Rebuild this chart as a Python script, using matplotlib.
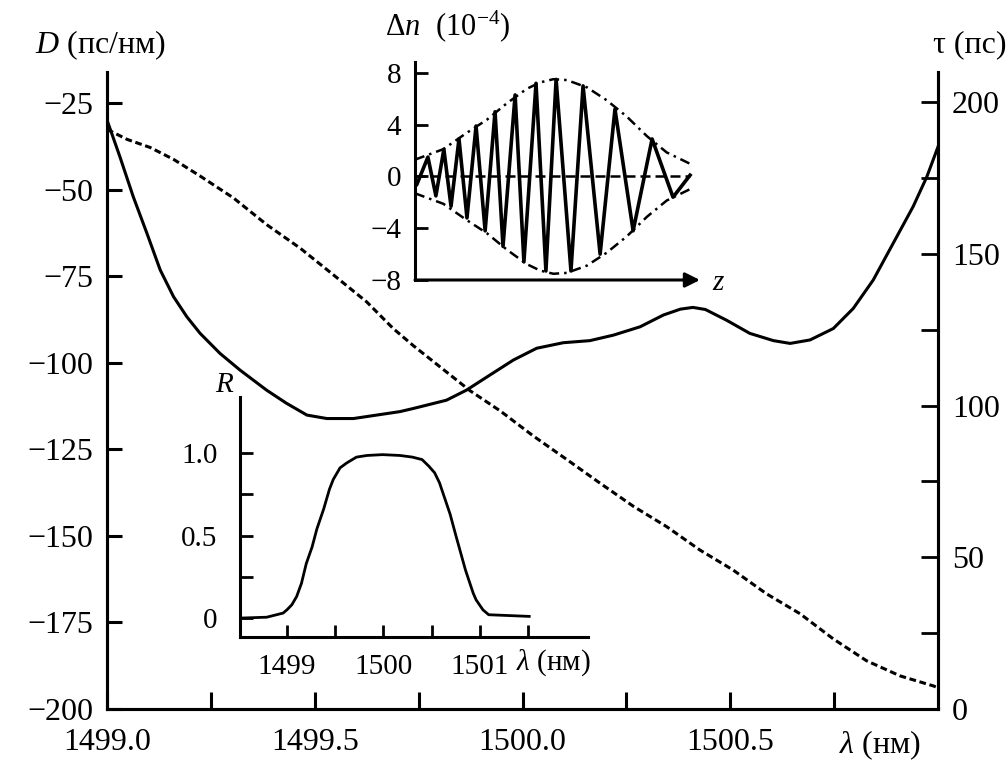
import numpy as np
import matplotlib
matplotlib.use("Agg")
import matplotlib.pyplot as plt

plt.rcParams['font.family'] = ['Liberation Serif', 'DejaVu Serif']
plt.rcParams['mathtext.fontset'] = 'custom'
plt.rcParams['mathtext.rm'] = 'Liberation Serif'
plt.rcParams['mathtext.it'] = 'Liberation Serif:italic'
plt.rcParams['font.size'] = 23

# main plot: dispersion D (solid, left axis)
lam_d = [1499.000, 1499.031, 1499.063, 1499.096, 1499.128, 1499.160, 1499.192,
         1499.224, 1499.272, 1499.320, 1499.384, 1499.432, 1499.481, 1499.529,
         1499.593, 1499.649, 1499.705, 1499.737, 1499.817, 1499.865, 1499.922,
         1499.978, 1500.034, 1500.098, 1500.162, 1500.219, 1500.283, 1500.339,
         1500.380, 1500.410, 1500.440, 1500.491, 1500.547, 1500.604, 1500.644,
         1500.692, 1500.748, 1500.796, 1500.844, 1500.892, 1500.940, 1500.973,
         1501.000]
d_vals = [-29.9, -40.5, -52.0, -62.6, -73.2, -80.9, -86.7,
          -91.5, -97.3, -102.1, -107.9, -111.7, -115.1, -116.1,
          -116.1, -115.1, -114.1, -113.2, -110.8, -107.9, -103.5,
          -99.2, -95.8, -94.2, -93.6, -92.0, -89.6, -86.2,
          -84.5, -84.0, -84.6, -87.7, -91.5, -93.6, -94.4,
          -93.4, -90.1, -84.3, -76.1, -65.5, -54.9, -46.3,
          -37.6]

# main plot: group delay tau (dashed, right axis)
lam_tau = [1499.000, 1499.048, 1499.104, 1499.160, 1499.224, 1499.304, 1499.385,
           1499.465, 1499.545, 1499.625, 1499.689, 1499.737, 1499.874, 1499.946,
           1500.026, 1500.106, 1500.186, 1500.267, 1500.347, 1500.427, 1500.507,
           1500.587, 1500.668, 1500.748, 1500.828, 1500.909, 1500.989, 1501.000]
tau_vals = [191.1, 187.8, 185.1, 181.2, 175.7, 168.5, 159.6,
            151.9, 143.1, 134.2, 125.4, 119.8, 104.9, 98.3,
            90.0, 82.3, 74.5, 66.8, 60.1, 52.4, 45.8,
            38.0, 31.4, 23.1, 15.9, 10.9, 7.6, 7.0]

d_ticks = [-200, -175, -150, -125, -100, -75, -50, -25]
tau_ticks = [0, 50, 100, 150, 200]
tau_minor = [25, 75, 125, 175]
x_ticks = [1499.0, 1499.25, 1499.5, 1499.75, 1500.0, 1500.25, 1500.5, 1500.75]
x_labels = ['1499.0', '', '1499.5', '', '1500.0', '', '1500.5', '']

# inset: reflectivity R
lam_r = [1498.53, 1498.79, 1498.96, 1499.00, 1499.05, 1499.10, 1499.15, 1499.20,
         1499.26, 1499.31, 1499.38, 1499.44, 1499.48, 1499.55, 1499.62, 1499.72,
         1499.83, 1499.99, 1500.17, 1500.30, 1500.40, 1500.47, 1500.53, 1500.58,
         1500.69, 1500.75, 1500.85, 1500.93, 1500.96, 1501.03, 1501.09, 1501.51]
r_vals = [0.0, 0.005, 0.03, 0.05, 0.08, 0.13, 0.21, 0.33,
          0.43, 0.54, 0.66, 0.78, 0.84, 0.91, 0.94, 0.975,
          0.985, 0.99, 0.985, 0.975, 0.96, 0.92, 0.88, 0.82,
          0.63, 0.50, 0.29, 0.15, 0.11, 0.05, 0.02, 0.01]
r_xticks = [1499, 1499.5, 1500, 1500.5, 1501, 1501.5]
r_xlabels = ['1499', '', '1500', '', '1501', '']
r_yticks = [0, 0.25, 0.5, 0.75, 1.0]
r_ylabels = ['0', '', '0.5', '', '1.0']

# inset: chirped grating index modulation (extrema) and envelope
z_pts = [0.07, 0.47, 0.76, 1.05, 1.31, 1.60, 1.89, 2.22, 2.55, 2.91, 3.20, 3.64,
         3.96, 4.40, 4.76, 5.13, 5.67, 6.11, 6.73, 7.27, 7.93, 8.62, 9.38, 10.0]
dn_pts = [-0.6, 1.5, -1.5, 2.1, -2.3, 2.9, -3.2, 3.9, -4.2, 5.0, -5.4, 6.3,
          -6.6, 7.2, -7.3, 7.5, -7.3, 7.0, -6.0, 5.2, -4.2, 2.9, -1.6, 0.1]
z_env = [0.0, 1.03, 1.88, 2.61, 3.33, 4.06, 4.55, 5.03, 5.52, 6.25, 6.97,
         7.70, 8.43, 9.15, 10.0]
env = [1.3, 2.11, 3.37, 4.38, 5.64, 6.77, 7.27, 7.52, 7.45, 6.89, 5.89,
       4.63, 3.12, 1.86, 0.98]
dn_ticks = [8, 4, 0, -4, -8]

fig = plt.figure(figsize=(10.07, 7.65), dpi=100)

# ---- main axes
ax = fig.add_axes([0.1063, 0.0732, 0.8252, 0.8327])
ax.plot(lam_d, d_vals, color='k', lw=2.2)
ax.set_xlim(1499.0, 1501.0)
ax.set_ylim(-200, -16)
ax.spines['top'].set_visible(False)
for s in ax.spines.values():
    s.set_linewidth(2.2)
ax.set_yticks(d_ticks)
ax.set_xticks(x_ticks)
ax.set_xticklabels(x_labels)
ax.tick_params(axis='both', direction='in', width=2.2)
ax.tick_params(axis='y', length=11, pad=10)
ax.tick_params(axis='x', length=12, pad=14)

ax2 = ax.twinx()
ax2.plot(lam_tau, tau_vals, color='k', lw=2.2, ls=(0, (2.2, 1.2)))
ax2.set_ylim(0, 210)
ax2.spines['top'].set_visible(False)
for s in ax2.spines.values():
    s.set_linewidth(2.2)
ax2.set_yticks(tau_ticks)
ax2.set_yticks(tau_minor, minor=True)
ax2.tick_params(axis='y', which='both', direction='in', length=12, width=2.0, pad=10)

fig.text(0.035, 0.941, '$D$ (пс/нм)', ha='left', va='center')
fig.text(0.927, 0.941, 'τ (пс)', ha='left', va='center')
fig.text(0.874, 0.026, '$\\lambda$ (нм)', ha='center', va='center')

# ---- R inset
ax3 = fig.add_axes([0.2383, 0.1673, 0.3456, 0.3137])
ax3.patch.set_alpha(0)
ax3.plot(lam_r, r_vals, color='k', lw=2.0)
ax3.set_xlim(1498.513, 1502.119)
ax3.set_ylim(-0.115, 1.339)
ax3.spines['top'].set_visible(False)
ax3.spines['right'].set_visible(False)
for s in ax3.spines.values():
    s.set_linewidth(2.2)
ax3.set_yticks(r_yticks)
ax3.set_yticklabels(r_ylabels)
ax3.set_xticks(r_xticks)
ax3.set_xticklabels(r_xlabels)
ax3.tick_params(axis='both', direction='in', length=9, width=2.0, labelsize=21)
ax3.tick_params(axis='y', pad=16)
ax3.tick_params(axis='x', pad=12)
ax3.text(-0.045, 1.05, '$R$', transform=ax3.transAxes, ha='center', va='center', fontsize=21)
ax3.text(0.9, -0.108, '$\\lambda$ (нм)', transform=ax3.transAxes, ha='center', va='center', fontsize=21)

# ---- delta n inset
ax4 = fig.add_axes([0.4121, 0.634, 0.283, 0.285])
ax4.patch.set_alpha(0)
ax4.plot(z_pts, dn_pts, color='k', lw=2.6)
ax4.plot(z_env, env, color='k', lw=1.8, ls=(0, (4, 2, 1, 2)))
ax4.plot(z_env, [-v for v in env], color='k', lw=1.8, ls=(0, (4, 2, 1, 2)))
ax4.plot([0, 10], [0, 0], color='k', lw=1.8, ls=(0, (4, 2)))
ax4.set_xlim(0, 10.36)
ax4.set_ylim(-8.0, 8.85)
for k in ['top', 'right', 'bottom']:
    ax4.spines[k].set_visible(False)
ax4.spines['left'].set_linewidth(2.2)
ax4.set_xticks([])
ax4.set_yticks(dn_ticks)
ax4.tick_params(axis='y', direction='in', length=9, width=2.0, pad=10, labelsize=21)
ax4.annotate('', xy=(1.0, 0.0), xytext=(0.0, 0.0), xycoords='axes fraction',
             arrowprops=dict(arrowstyle='-|>', lw=2.2, color='k', mutation_scale=22,
                             shrinkA=0, shrinkB=0))
fig.text(0.707, 0.630, '$z$', ha='left', va='center', fontsize=21)
fig.text(0.382, 0.966, '$\\Delta n$  (10$^{-4}$)', ha='left', va='center', fontsize=22)

fig.savefig('out.png', dpi=100)
